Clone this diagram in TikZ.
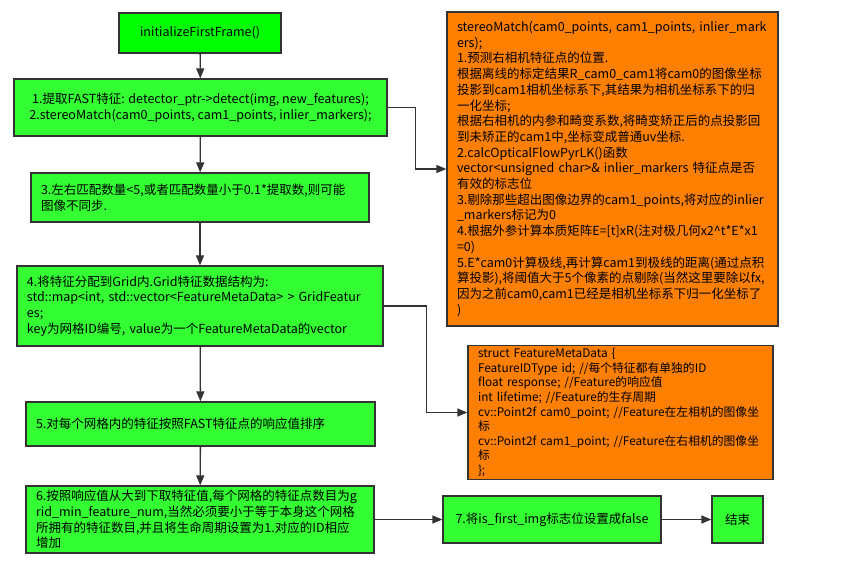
\documentclass[tikz,border=0pt]{standalone}
\usepackage{fontspec}
\setmainfont{Noto Sans CJK SC}
\usepackage{tikz}
\usetikzlibrary{arrows.meta,positioning,calc}
\definecolor{blokzelena}{RGB}{51,255,51}
\definecolor{blokzelena2}{RGB}{0,255,0}
\definecolor{bloknarandzasta}{RGB}{255,128,0}
\definecolor{linija}{RGB}{51,51,51}
\hyphenpenalty=10000

\begin{document}
\begin{tikzpicture}[x=1pt,y=-1pt,
    blok/.style={rectangle,draw=linija,line width=1.3pt,fill=blokzelena,inner xsep=10pt,inner ysep=3pt,
                 align=left,font=\fontsize{12.5}{15.7}\selectfont},
    blokn/.style={blok,fill=bloknarandzasta},
    strelica/.style={-{Triangle[length=10pt,width=8pt]},line width=1.3pt,draw=linija}
]
\useasboundingbox (0,0) rectangle (846,562);
\node[blok,fill=blokzelena2,minimum width=162pt,minimum height=40pt,align=center] (init) at (200,33) {initializeFirstFrame()};
\node[blok,minimum width=373pt,minimum height=57pt,align=center] (s1) at (200.5,107.5) {1.提取FAST特征: detector\_ptr->detect(img, new\_features);\\2.stereoMatch(cam0\_points, cam1\_points, inlier\_markers);};
\node[blok,text width=318pt,minimum height=49pt] (s3) at (200,197.5) {3.左右匹配数量<5,或者匹配数量小于0.1*提取数,则可能\\图像不同步.};
\node[blok,text width=346pt,minimum height=80pt] (s4) at (200,306) {4.将特征分配到Grid内.Grid特征数据结构为:\\std::map<int, std::vector<FeatureMetaData> > GridFeatur\\es;\\key为网格ID编号, value为一个FeatureMetaData的vector};
\node[blok,text width=329pt,minimum height=44pt] (s5) at (200.5,424) {5.对每个网格内的特征按照FAST特征点的响应值排序};
\node[blok,text width=328pt,minimum height=67pt,inner ysep=1pt] (s6) at (200,519.5) {6.按照响应值从大到下取特征值,每个网格的特征点数目为g\\rid\_min\_feature\_num,当然必须要小于等于本身这个网格\\所拥有的特征数目,并且将生命周期设置为1.对应的ID相应\\增加};
\node[blokn,text width=311pt,minimum height=314pt] (stereo) at (612.5,169) {stereoMatch(cam0\_points, cam1\_points, inlier\_mark\\ers);\\1.预测右相机特征点的位置.\\根据离线的标定结果R\_cam0\_cam1将cam0的图像坐标\\投影到cam1相机坐标系下,其结果为相机坐标系下的归\\一化坐标;\\根据右相机的内参和畸变系数,将畸变矫正后的点投影回\\到未矫正的cam1中,坐标变成普通uv坐标.\\2.calcOpticalFlowPyrLK()函数\\vector<unsigned char>\& inlier\_markers 特征点是否\\有效的标志位\\3.剔除那些超出图像边界的cam1\_points,将对应的inlier\\\_markers标记为0\\4.根据外参计算本质矩阵E=[t]xR(注对极几何x2\^{}t*E*x1\\=0)\\5.E*cam0计算极线,再计算cam1到极线的距离(通过点积\\算投影),将阈值大于5个像素的点剔除(当然这里要除以fx,\\因为之前cam0,cam1已经是相机坐标系下归一化坐标了\\)};
\node[blokn,text width=285pt,minimum height=131pt,font=\fontsize{11.8}{14.6}\selectfont] (struct) at (620.5,412.5) {struct FeatureMetaData \{\\FeatureIDType id; //每个特征都有单独的ID\\float response; //Feature的响应值\\int lifetime; //Feature的生存周期\\cv::Point2f cam0\_point; //Feature在左相机的图像坐\\标\\cv::Point2f cam1\_point; //Feature在右相机的图像坐\\标\\\};};
\node[blok,minimum width=218pt,minimum height=47pt,align=center] (s7) at (552,519.5) {7.将is\_first\_img标志位设置成false};
\node[blok,minimum width=51pt,minimum height=47pt,inner xsep=3pt,align=center] (kraj) at (737.5,519.5) {结束};

\draw[strelica] (init) -- (s1);
\draw[strelica] (s1) -- (s3);
\draw[strelica] (s3) -- (s4);
\draw[strelica] (s4) -- (s5);
\draw[strelica] (s5) -- (s6);
\draw[strelica] (s6) -- (s7);
\draw[strelica] (s7) -- (kraj);
\draw[strelica] (s1.east) -- ++(28,0) |- (stereo.west);
\draw[strelica] (s4.east) -- ++(43,0) |- (struct.west);
\end{tikzpicture}
\end{document}
